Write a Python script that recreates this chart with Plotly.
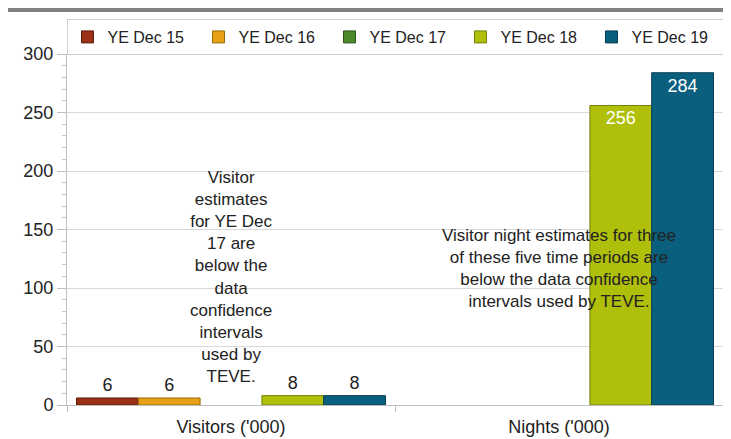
import plotly.graph_objects as go

categories = ["Visitors ('000)", "Nights ('000)"]
series = ["YE Dec 15", "YE Dec 16", "YE Dec 17", "YE Dec 18", "YE Dec 19"]
dec15 = [6, None]
dec16 = [6, None]
dec17 = [None, None]
dec18 = [8, 256]
dec19 = [8, 284]
colors = ["#9A3018", "#E6A117", "#4A8A2C", "#AFBF0A", "#0B5F7E"]
edges = ["#5E1C0C", "#9A6A0C", "#2D561A", "#73800A", "#073E54"]

values = [dec15, dec16, dec17, dec18, dec19]

fig = go.Figure()
for name, vals, col, edge in zip(series, values, colors, edges):
    # small bars get label above, big bars get white label inside
    pos = ["inside" if (v is not None and v > 50) else "outside" for v in vals]
    fig.add_trace(go.Bar(
        name=name, x=categories, y=vals,
        marker=dict(color=col, line=dict(color=edge, width=1)),
        text=[str(v) if v is not None else "" for v in vals],
        textposition=pos, insidetextanchor="end",
        insidetextfont=dict(color="white", size=18),
        outsidetextfont=dict(color="#222222", size=18),
        cliponaxis=False,
    ))

note_visitors = ("Visitor<br>estimates<br>for YE Dec<br>17 are<br>below the<br>data<br>"
                 "confidence<br>intervals<br>used by<br>TEVE.")
note_nights = ("Visitor night estimates for three<br>of these five time periods are<br>"
               "below the data confidence<br>intervals used by TEVE.")

fig.add_annotation(x=categories[0], y=109, xref="x", yref="y", text=note_visitors,
                   showarrow=False, font=dict(size=17, color="#222222"), align="center")
fig.add_annotation(x=categories[1], y=117, xref="x", yref="y", text=note_nights,
                   showarrow=False, font=dict(size=17, color="#222222"), align="center")

# grey band at top of the page
fig.add_shape(type="rect", xref="paper", yref="paper",
              x0=(6 - 67) / 656, x1=(731 - 67) / 656, y0=1.120, y1=1.134,
              fillcolor="#808080", line=dict(width=0), layer="above")

# page body has an 8px margin, so the figure is a little smaller than the window
fig.update_layout(
    width=723, height=431,
    margin=dict(l=59, r=8, t=46, b=34, autoexpand=False),
    paper_bgcolor="white", plot_bgcolor="white",
    font=dict(family="Liberation Sans", color="#222222"),
    barmode="group", bargap=0.058, bargroupgap=0,
    showlegend=True,
    legend=dict(orientation="h", x=0.5, xanchor="center", y=1.0997, yanchor="top",
                bordercolor="#D0D0D0", borderwidth=1, font=dict(size=16),
                entrywidth=86, entrywidthmode="pixels", itemwidth=30,
                tracegroupgap=0, traceorder="normal"),
    xaxis=dict(showline=True, linecolor="#BFBFBF", ticks="outside", tickson="boundaries",
               ticklen=6, tickcolor="#BFBFBF", tickfont=dict(size=18), showgrid=False,
               ticklabelstandoff=5),
    yaxis=dict(range=[0, 300], dtick=50, showgrid=True, gridcolor="#D9D9D9",
               showline=True, linecolor="#BFBFBF", mirror=True,
               ticks="outside", ticklen=9, tickcolor="#BFBFBF", tickfont=dict(size=18),
               minor=dict(dtick=10, ticks="outside", ticklen=4, tickcolor="#BFBFBF",
                          showgrid=False),
               zeroline=False),
)

fig.write_html("out.html")
